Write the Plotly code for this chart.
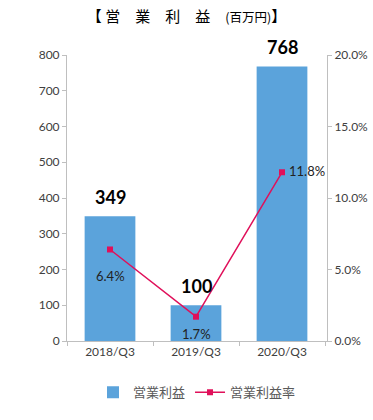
import plotly.graph_objects as go

categories = ["2018/Q3", "2019/Q3", "2020/Q3"]
profit = [349, 100, 768]
margin_pct = [0.064, 0.017, 0.118]
margin_labels = ["6.4%", "1.7%", "11.8%"]

font_jp = "Noto Sans CJK JP, Noto Sans, sans-serif"
font_num = "Lato, Open Sans, sans-serif"

fig = go.Figure()
fig.add_trace(go.Bar(
    x=categories, y=profit, name="営業利益",
    marker=dict(color="#5BA3DB", line=dict(width=0)),
    width=0.59,
))
fig.add_trace(go.Scatter(
    x=categories, y=margin_pct, name="営業利益率", yaxis="y2",
    mode="lines+markers",
    line=dict(color="#E0105A", width=1.5),
    marker=dict(symbol="square", size=6, color="#E0105A"),
    cliponaxis=False,
))

annotations = []
for c, v in zip(categories, profit):
    annotations.append(dict(x=c, y=v, xref="x", yref="y", text=f"<b>{v}</b>",
                            showarrow=False, yanchor="middle", yshift=19,
                            font=dict(size=18, color="#000000", family=font_num)))
pct_style = [dict(xanchor="center", yanchor="middle", xshift=0, yshift=-27),
             dict(xanchor="center", yanchor="middle", xshift=0, yshift=-17),
             dict(xanchor="left", yanchor="middle", xshift=5, yshift=1)]
for c, p, lab, st in zip(categories, margin_pct, margin_labels, pct_style):
    annotations.append(dict(x=c, y=p, xref="x", yref="y2", text=lab, showarrow=False,
                            font=dict(size=13, color="#222222", family=font_num), **st))

axis_common = dict(showline=True, linecolor="#BFBFBF", linewidth=1,
                   ticks="outside", ticklen=4, tickcolor="#BFBFBF",
                   showgrid=False, zeroline=False, automargin=False,
                   tickfont=dict(size=12, color="#404040", family=font_num))

fig.update_layout(
    width=373, height=420,
    margin=dict(l=67, r=46, t=55, b=79, autoexpand=False),
    paper_bgcolor="white", plot_bgcolor="white",
    showlegend=True,
    annotations=annotations,
    legend=dict(orientation="h", x=0.5, xanchor="center", y=-0.179, yanchor="middle",
                font=dict(size=13, color="#595959", family=font_jp)),
    xaxis=dict(**axis_common, tickson="boundaries"),
    yaxis=dict(**axis_common, range=[0, 800], dtick=100),
    yaxis2=dict(**axis_common, range=[0, 0.2], dtick=0.05, tickformat=".1%",
                overlaying="y", side="right"),
    title=dict(
        text="【 営\u3000業\u3000利\u3000益\u3000<span style='font-size:12.5px'>(百万円)</span>】",
        x=0.5, xanchor="center", y=0.96, yanchor="middle",
        font=dict(size=15, color="#000000", family=font_jp),
    ),
)

fig.write_html("out.html",
               config={"displayModeBar": False},
               post_script="document.body.style.margin='0';document.body.style.overflow='hidden';")
